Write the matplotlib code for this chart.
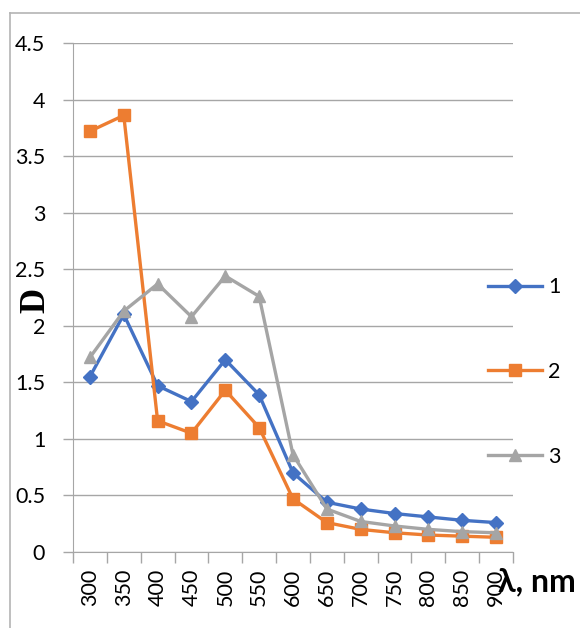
import numpy as np
import matplotlib.pyplot as plt
from matplotlib.lines import Line2D

# wavelengths, nm
wavelengths = ["300", "350", "400", "450", "500", "550", "600",
               "650", "700", "750", "800", "850", "900"]

# optical density D for the three samples
d1 = [1.55, 2.10, 1.47, 1.33, 1.70, 1.39, 0.70, 0.44, 0.38, 0.34, 0.31, 0.28, 0.26]
d2 = [3.72, 3.86, 1.16, 1.05, 1.43, 1.10, 0.47, 0.26, 0.20, 0.17, 0.15, 0.14, 0.13]
d3 = [1.72, 2.13, 2.37, 2.08, 2.44, 2.26, 0.86, 0.38, 0.27, 0.23, 0.20, 0.18, 0.17]

series_names = ["1", "2", "3"]
yticks = [0, 0.5, 1, 1.5, 2, 2.5, 3, 3.5, 4, 4.5]
ytick_labels = ["0", "0.5", "1", "1.5", "2", "2.5", "3", "3.5", "4", "4.5"]

plt.rcParams["font.family"] = ["Lato", "DejaVu Sans"]

W, H = 580, 628
fig = plt.figure(figsize=(W / 100, H / 100), dpi=100)

# thin frame at top and left like the cropped chart area
fig.add_artist(Line2D([10 / W, 1], [1 - 13 / H, 1 - 13 / H], color="#b4b4b4", lw=1.2))
fig.add_artist(Line2D([10 / W, 10 / W], [0, 1 - 13 / H], color="#b4b4b4", lw=1.2))

ax = fig.add_axes([73 / W, 1 - 552 / H, (513 - 73) / W, (552 - 43) / H])

x = np.arange(len(wavelengths))
ax.plot(x, d1, color="#4472C4", lw=2.4, marker="D", ms=7, label=series_names[0], zorder=3)
ax.plot(x, d2, color="#ED7D31", lw=2.4, marker="s", ms=9, label=series_names[1], zorder=3)
ax.plot(x, d3, color="#A5A5A5", lw=2.4, marker="^", ms=9, label=series_names[2], zorder=3)

ax.set_xlim(-0.5, len(wavelengths) - 0.5)
ax.set_ylim(0, 4.5)

ax.set_yticks(yticks)
ax.set_yticklabels(ytick_labels, fontsize=15.5)
ax.set_xticks(x)
ax.set_xticklabels(wavelengths, rotation=90, fontsize=15.5)
ax.set_xticks(np.arange(-0.5, len(wavelengths)), minor=True)

ax.tick_params(axis="y", length=7, width=1, color="#a6a6a6", pad=13)
ax.tick_params(axis="x", which="major", length=0, pad=12)
ax.tick_params(axis="x", which="minor", length=8, width=1, color="#a6a6a6")

ax.grid(axis="y", color="#a6a6a6", lw=1)
ax.set_axisbelow(True)
for s in ["top", "right"]:
    ax.spines[s].set_visible(False)
ax.spines["left"].set_color("#a6a6a6")
ax.spines["bottom"].set_color("#a6a6a6")

fig.text(36 / W, 1 - 300 / H, "D", rotation=90, ha="center", va="center",
         family=["Liberation Serif", "DejaVu Serif"], fontweight="bold", fontsize=25)

fig.text(576 / W, 1 - 591 / H, "λ, nm", ha="right", va="baseline",
         fontsize=23, fontweight="bold")

fig.legend(loc="center left", bbox_to_anchor=(488 / W, 1 - 372 / H),
           frameon=False, fontsize=15.5, labelspacing=3.0, handlelength=2.5,
           handletextpad=0.3, borderpad=0, borderaxespad=0)

fig.savefig("out.png", dpi=100)
